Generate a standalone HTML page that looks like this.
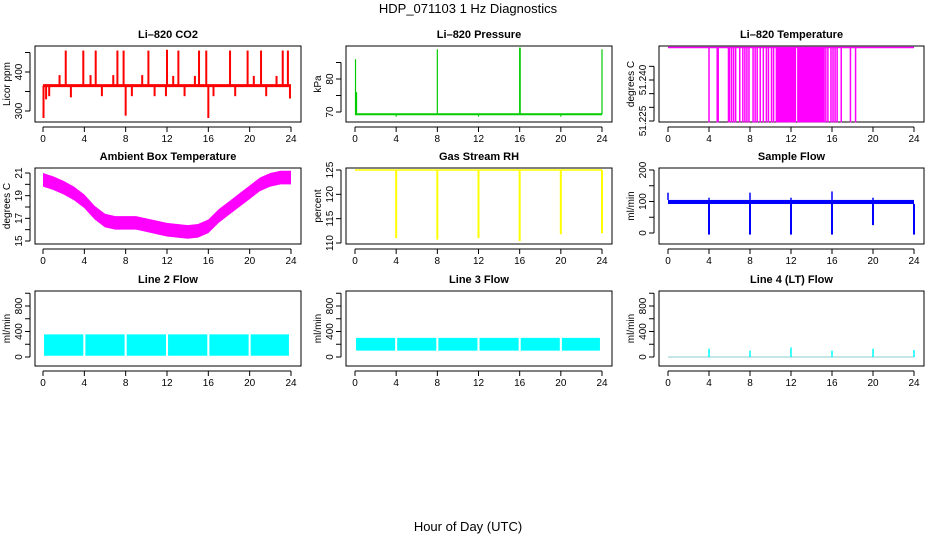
<!DOCTYPE html>
<html><head><meta charset="utf-8">
<style>
html,body{margin:0;padding:0;background:#fff;}
svg{display:block;font-family:"Liberation Sans",Arial,sans-serif;}
</style></head>
<body>
<svg id="chart" width="936" height="540" viewBox="0 0 936 540" xmlns="http://www.w3.org/2000/svg">
<text x="468" y="13" text-anchor="middle" font-size="13">HDP_071103  1 Hz Diagnostics</text>
<text x="468" y="531" text-anchor="middle" font-size="13">Hour of Day (UTC)</text>
</svg>
<script>
// ---- data ----
const xTicks = [0,4,8,12,16,20,24];
// CO2
const co2Base = 365;
const co2SpikeTimes = [0.05,0.3,0.6,1.6,2.2,2.7,3.9,4.6,5.1,5.7,6.8,7.2,7.8,8.0,8.6,9.6,10.2,10.8,11.9,12.0,12.6,13.1,13.7,14.7,15.1,15.8,16.0,16.5,18.1,18.6,19.8,20.4,21.1,21.6,22.6,23.2,23.7,23.9];
const co2SpikeVals  = [282,330,338,392,455,335,455,392,455,338,392,455,455,288,338,392,455,338,338,457,390,455,338,390,455,455,282,338,455,338,455,390,455,338,390,455,455,332];
// Li-820 temperature
const tempTop = 51.2519;
const tempDropTimes = [4.0,4.8,4.9,5.9,6.0,6.2,6.4,6.6,7.0,7.3,7.5,7.7,7.9,8.3,8.5,8.7,9.0,9.3,9.6,9.8,10.1,10.3,15.4,15.6,15.9,16.1,16.3,16.5,16.9,17.8,18.3];
const tempDenseStart = [10.5,12.6];
const tempDenseEnd   = [12.5,15.3];
const tempBottom = 51.2245;
// Pressure
const presBase = 69.3;
const presSpikeTimes = [0.05,0.15,4.0,8.0,12.0,16.0,16.05,20.0,24.0];
const presSpikeVals  = [86,76,68.6,89,68.6,89.5,89.5,68.6,89];
// Ambient box temperature
const ambHours = [0,1,2,3,4,5,6,7,8,9,10,11,12,13,14,15,16,17,18,19,20,21,22,23,24];
const ambVals  = [20.4,20.1,19.7,19.2,18.5,17.5,16.8,16.6,16.6,16.6,16.4,16.2,16.0,15.9,15.8,15.9,16.3,17.2,17.9,18.6,19.3,20.0,20.4,20.6,20.6];
const ambHalfWidth = 0.6;
// Gas stream RH
const rhBase = 125;
const rhDipTimes = [4.0,8.0,12.0,16.0,20.0,24.0];
const rhDipVals  = [111,110.7,111,110.4,111.8,112];
// Sample flow
const sfLow = 92, sfHigh = 105;
const sfDipTimes = [4.0,8.0,12.0,16.0,20.0,24.0];
const sfDipVals  = [-5,-5,-5,-5,25,-5];
const sfSpikeTimes = [0.0,8.0,16.0,4.0,12.0,20.0];
const sfSpikeVals  = [128,128,132,112,112,112];
// Line flows
const l2Low = 20, l2High = 355;
const l3Low = 100, l3High = 300;
const segStart = [0.1,4.1,8.1,12.1,16.1,20.1];
const segEnd   = [3.9,7.9,11.9,15.9,19.9,23.8];
const l4SpikeTimes = [4.0,8.0,12.0,16.0,20.0,24.0];
const l4SpikeVals  = [130,100,150,100,130,110];

// ---- panels layout ----
const svg = document.getElementById('chart');
const NS = 'http://www.w3.org/2000/svg';
const cols = [{l:35,r:301,x0:43,x1:291},{l:346,r:612,x0:355,x1:602},{l:659,r:924,x0:668,x1:914}];
const rows = [{t:46,b:122},{t:168,b:244},{t:291,b:366}];
function mk(tag, attrs, parent){const e=document.createElementNS(NS,tag);for(const k in attrs)e.setAttribute(k,attrs[k]);(parent||svg).appendChild(e);return e;}

function panel(name,title,ylab,c,r,yv0,yp0,yv1,yp1,yTicks,yLabels){
  const C=cols[c],R=rows[r];
  const g=mk('g',{});
  
  
  const X=v=>C.x0+(C.x1-C.x0)*v/24;
  const Y=v=>yp0+(yp1-yp0)*(v-yv0)/(yv1-yv0);
  const box=mk('rect',{x:C.l,y:R.t,width:C.r-C.l,height:R.b-R.t,fill:'none',stroke:'#000','stroke-width':1},g);
  
  
  const t=mk('text',{x:(C.l+C.r)/2,y:R.t-8,'text-anchor':'middle','font-size':11,'font-weight':'bold'},g);t.textContent=title;
  
  
  const xa=mk('g',{},g);
  
  
  mk('line',{x1:X(0),x2:X(24),y1:R.b+5,y2:R.b+5,stroke:'#000'},xa);
  xTicks.forEach(v=>{mk('line',{x1:X(v),x2:X(v),y1:R.b+5,y2:R.b+10,stroke:'#000'},xa);
    const tt=mk('text',{x:X(v),y:R.b+20,'text-anchor':'middle','font-size':10},xa);tt.textContent=v;});
  const ya=mk('g',{},g);
  
  
  const ax=C.l-5;
  mk('line',{x1:ax,x2:ax,y1:Y(yTicks[0]),y2:Y(yTicks[yTicks.length-1]),stroke:'#000'},ya);
  yTicks.forEach(v=>{mk('line',{x1:ax,x2:ax-5,y1:Y(v),y2:Y(v),stroke:'#000'},ya);});
  yLabels.forEach(v=>{const tt=mk('text',{x:0,y:0,'text-anchor':'middle','font-size':10,transform:`translate(${ax-8},${Y(v)}) rotate(-90)`},ya);tt.textContent=v;});
  const yl=mk('text',{x:0,y:0,'text-anchor':'middle','font-size':10,transform:`translate(${C.l-25},${(R.t+R.b)/2}) rotate(-90)`},g);yl.textContent=ylab;
  
  
  const s=mk('g',{},g);
  
  
  return {X,Y,s};
}
function vseg(p,par,t,a,b,col,w){mk('line',{x1:p.X(t),x2:p.X(t),y1:p.Y(a),y2:p.Y(b),stroke:col,'stroke-width':w||1.5},par);}
function hline(p,par,t0,t1,v,col,w){mk('line',{x1:p.X(t0),x2:p.X(t1),y1:p.Y(v),y2:p.Y(v),stroke:col,'stroke-width':w||1},par);}
function band(p,par,t0,t1,lo,hi,col){mk('rect',{x:p.X(t0),y:p.Y(hi),width:p.X(t1)-p.X(t0),height:p.Y(lo)-p.Y(hi),fill:col},par);}

let p=panel('co2','Li\u2013820 CO2','Licor ppm',0,0,300,111,400,72,[300,350,400,450],[300,400]);
hline(p,p.s,0,24,co2Base,'#f00',3);
co2SpikeTimes.forEach((t,i)=>vseg(p,p.s,t,co2Base,co2SpikeVals[i],'#f00',2));
p=panel('pressure','Li\u2013820 Pressure','kPa',1,0,70,112,80,79,[70,75,80,85],[70,80]);
hline(p,p.s,0,24,presBase,'#00cc00',2);
presSpikeTimes.forEach((t,i)=>vseg(p,p.s,t,presBase,presSpikeVals[i],'#00cc00',1.2));
p=panel('li820-temperature','Li\u2013820 Temperature','degrees C',2,0,51.225,121,51.240,80,[51.225,51.230,51.235,51.240,51.245],['51.225','51.240']);
hline(p,p.s,0,24,tempTop,'#f0f',1.5);
tempDropTimes.forEach(t=>vseg(p,p.s,t,tempTop,tempBottom,'#f0f',1.5));
tempDenseStart.forEach((t,i)=>band(p,p.s,t,tempDenseEnd[i],tempBottom,tempTop,'#f0f'));
p=panel('ambient-temperature','Ambient Box Temperature','degrees C',0,1,15,241,21,173,[15,16,17,18,19,20,21],[15,17,19,21]);
{let up=ambHours.map((h,i)=>p.X(h)+','+p.Y(ambVals[i]+ambHalfWidth)).join(' ');
 let dn=ambHours.slice().reverse().map((h,j)=>{const i=ambHours.length-1-j;return p.X(h)+','+p.Y(ambVals[i]-ambHalfWidth);}).join(' ');
 mk('polygon',{points:up+' '+dn,fill:'#f0f'},p.s);}
p=panel('gas-stream-rh','Gas Stream RH','percent',1,1,110,243,125,170,[110,115,120,125],[110,115,120,125]);
hline(p,p.s,0,24,rhBase,'#ff0',1.5);
rhDipTimes.forEach((t,i)=>vseg(p,p.s,t,rhBase,rhDipVals[i],'#ff0',2));
p=panel('sample-flow','Sample Flow','ml/min',2,1,0,233,200,170,[0,50,100,150,200],[0,100,200]);
band(p,p.s,0,24,sfLow,sfHigh,'#00f');
sfDipTimes.forEach((t,i)=>vseg(p,p.s,t,sfLow,sfDipVals[i],'#00f',2));
sfSpikeTimes.forEach((t,i)=>vseg(p,p.s,t,sfHigh,sfSpikeVals[i],'#00f',1.5));
p=panel('line2-flow','Line 2 Flow','ml/min',0,2,0,357,800,306,[0,200,400,600,800,1000],[0,400,800]);
segStart.forEach((t,i)=>band(p,p.s,t,segEnd[i],l2Low,l2High,'#0ff'));
p=panel('line3-flow','Line 3 Flow','ml/min',1,2,0,357,800,306,[0,200,400,600,800,1000],[0,400,800]);
segStart.forEach((t,i)=>band(p,p.s,t,segEnd[i],l3Low,l3High,'#0ff'));
p=panel('line4-flow','Line 4 (LT) Flow','ml/min',2,2,0,357,800,306,[0,200,400,600,800,1000],[0,400,800]);
hline(p,p.s,0,24,0,'#8cc',1);
l4SpikeTimes.forEach((t,i)=>vseg(p,p.s,t,0,l4SpikeVals[i],'#0ff',1.5));
</script>
</body></html>
